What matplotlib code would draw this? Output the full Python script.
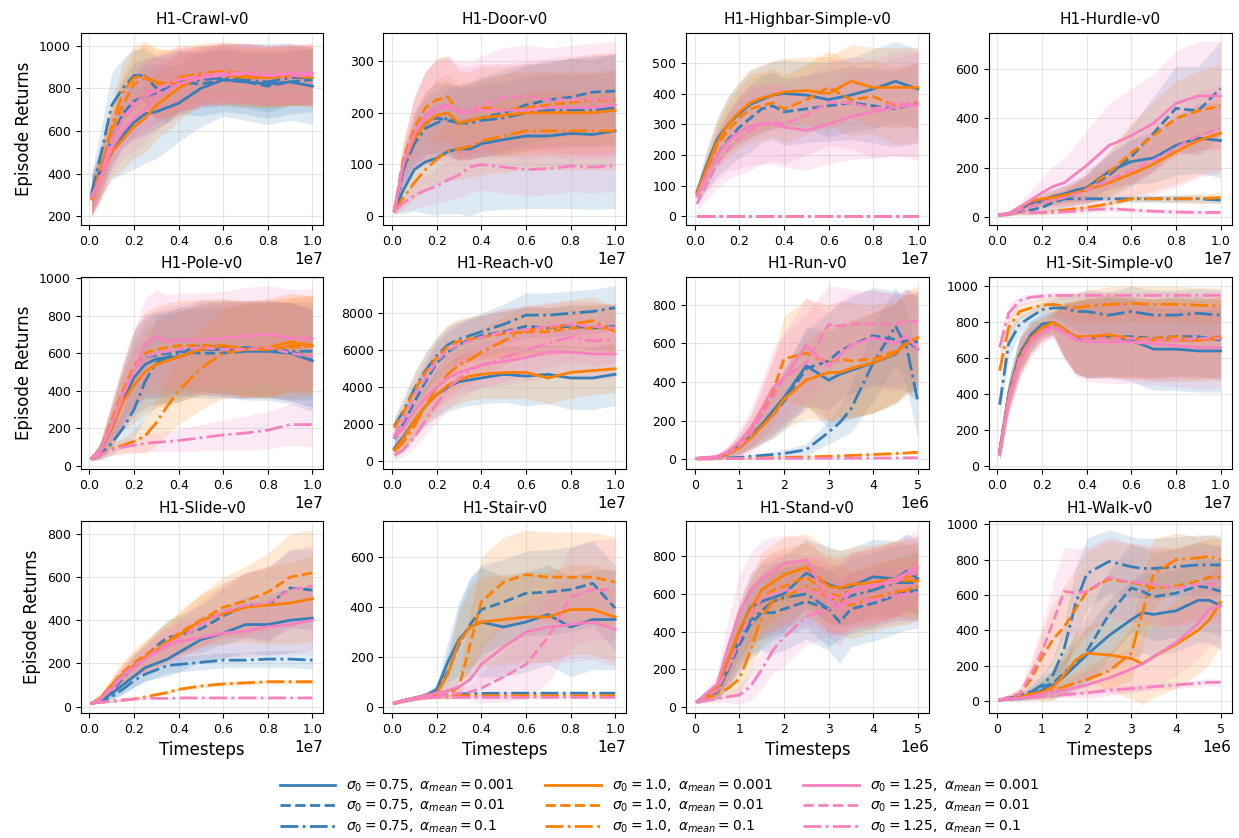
import numpy as np
import matplotlib
matplotlib.use('Agg')
import matplotlib.pyplot as plt

# Timestep grids (millions of steps)
X10 = [0.1, 0.5, 1.0, 1.5, 2.0, 2.5, 3.0, 3.5, 4.0, 5.0, 6.0, 7.0, 8.0, 9.0, 10.0]
X5 = [0.05, 0.5, 0.75, 1.0, 1.25, 1.5, 1.75, 2.0, 2.5, 3.0, 3.25, 3.5, 4.0, 4.5, 4.75, 5.0]

ENVS = ['H1-Crawl-v0', 'H1-Door-v0', 'H1-Highbar-Simple-v0', 'H1-Hurdle-v0',
        'H1-Pole-v0', 'H1-Reach-v0', 'H1-Run-v0', 'H1-Sit-Simple-v0',
        'H1-Slide-v0', 'H1-Stair-v0', 'H1-Stand-v0', 'H1-Walk-v0']
SIGMAS = ['0.75', '1.0', '1.25']
ALPHAS = ['0.001', '0.01', '0.1']

# curve order: sigma 0.75 (a=0.001, 0.01, 0.1), sigma 1.0 (...), sigma 1.25 (...)
CRAWL_MEAN = [
    [300, 400, 500, 580, 640, 680, 690, 710, 730, 800, 840, 830, 820, 830, 810],
    [300, 420, 560, 680, 740, 760, 780, 800, 830, 820, 840, 830, 810, 830, 840],
    [310, 480, 720, 800, 860, 860, 800, 790, 830, 840, 850, 840, 830, 850, 850],
    [280, 380, 500, 560, 620, 660, 720, 760, 800, 860, 860, 850, 850, 860, 850],
    [280, 420, 600, 720, 820, 850, 820, 820, 830, 860, 870, 860, 850, 860, 860],
    [280, 400, 620, 780, 850, 860, 830, 820, 850, 870, 880, 870, 860, 860, 870],
    [290, 370, 520, 600, 660, 700, 760, 790, 820, 850, 860, 870, 860, 870, 870],
    [290, 380, 560, 650, 720, 770, 800, 820, 840, 860, 870, 870, 860, 870, 860],
    [290, 380, 560, 660, 720, 760, 790, 820, 840, 860, 870, 870, 860, 860, 860],
]
CRAWL_SPREAD = [
    [90, 110, 130, 180, 220, 230, 220, 200, 180, 180, 170, 180, 190, 180, 180],
    [90, 110, 130, 160, 180, 180, 170, 160, 150, 150, 150, 150, 150, 150, 150],
    [90, 120, 150, 140, 120, 130, 150, 150, 140, 130, 130, 130, 140, 130, 130],
    [80, 100, 120, 140, 150, 160, 160, 160, 150, 140, 140, 140, 140, 140, 140],
    [80, 100, 120, 140, 150, 160, 160, 160, 150, 140, 140, 140, 140, 140, 140],
    [80, 100, 120, 140, 150, 160, 160, 160, 150, 140, 140, 140, 140, 140, 140],
    [90, 100, 110, 130, 150, 160, 160, 150, 150, 140, 140, 140, 140, 140, 140],
    [90, 100, 110, 130, 150, 160, 160, 150, 150, 140, 140, 140, 140, 140, 140],
    [90, 100, 110, 130, 150, 160, 160, 150, 150, 140, 140, 140, 140, 140, 140],
]

DOOR_MEAN = [
    [10, 50, 90, 105, 112, 125, 130, 130, 140, 148, 155, 155, 160, 158, 165],
    [10, 90, 150, 180, 190, 185, 180, 185, 190, 200, 215, 225, 230, 240, 242],
    [10, 90, 140, 170, 180, 190, 180, 180, 185, 190, 200, 205, 205, 205, 210],
    [10, 100, 150, 180, 195, 200, 180, 185, 190, 195, 200, 200, 200, 200, 205],
    [10, 110, 170, 210, 225, 230, 200, 200, 210, 205, 210, 215, 220, 225, 225],
    [8, 35, 65, 90, 110, 125, 130, 135, 145, 155, 165, 165, 165, 165, 165],
    [10, 100, 160, 195, 210, 215, 200, 200, 205, 205, 205, 210, 210, 210, 215],
    [10, 100, 160, 190, 205, 210, 205, 205, 215, 230, 232, 225, 225, 225, 228],
    [10, 25, 40, 50, 58, 70, 80, 95, 100, 95, 90, 92, 97, 95, 98],
]
DOOR_SPREAD = [
    [5, 45, 80, 100, 110, 120, 125, 130, 130, 135, 140, 140, 145, 145, 150],
    [5, 30, 50, 60, 70, 70, 70, 70, 75, 75, 75, 75, 75, 70, 70],
    [5, 30, 50, 60, 65, 70, 70, 70, 70, 70, 70, 70, 70, 70, 70],
    [5, 30, 50, 60, 70, 75, 75, 75, 75, 80, 80, 80, 80, 80, 80],
    [5, 30, 60, 70, 80, 80, 80, 80, 80, 85, 85, 85, 85, 90, 90],
    [5, 20, 30, 40, 50, 55, 60, 60, 65, 70, 75, 75, 75, 75, 75],
    [5, 40, 70, 85, 90, 90, 90, 90, 90, 90, 95, 95, 100, 100, 100],
    [5, 40, 70, 90, 100, 100, 95, 95, 95, 95, 100, 100, 105, 110, 110],
    [5, 15, 25, 30, 35, 40, 45, 50, 50, 50, 50, 50, 50, 50, 50],
]

HIGHBAR_MEAN = [
    [80, 160, 250, 300, 335, 365, 380, 395, 400, 395, 380, 395, 415, 440, 415],
    [70, 130, 200, 250, 290, 320, 350, 360, 340, 350, 360, 370, 360, 350, 370],
    [0, 0, 0, 0, 0, 0, 0, 0, 0, 0, 0, 0, 0, 0, 0],
    [75, 150, 240, 300, 340, 370, 385, 395, 405, 410, 400, 440, 420, 420, 420],
    [70, 140, 230, 280, 320, 350, 360, 370, 350, 380, 420, 380, 390, 360, 370],
    [0, 0, 0, 0, 0, 0, 0, 0, 0, 0, 0, 0, 0, 0, 0],
    [65, 130, 200, 245, 275, 295, 300, 300, 290, 280, 300, 325, 340, 355, 365],
    [40, 100, 170, 220, 255, 280, 300, 310, 300, 330, 370, 370, 350, 370, 360],
    [0, 0, 0, 0, 0, 0, 0, 0, 0, 0, 0, 0, 0, 0, 0],
]
HIGHBAR_SPREAD = [
    [20, 50, 70, 90, 100, 110, 110, 110, 110, 110, 120, 120, 130, 130, 130],
    [20, 50, 70, 90, 100, 110, 110, 110, 110, 110, 115, 120, 120, 125, 130],
    [0, 0, 0, 0, 0, 0, 0, 0, 0, 0, 0, 0, 0, 0, 0],
    [20, 50, 70, 90, 100, 110, 110, 110, 110, 110, 120, 120, 130, 130, 130],
    [20, 50, 70, 90, 100, 110, 110, 110, 110, 115, 120, 120, 120, 125, 130],
    [0, 0, 0, 0, 0, 0, 0, 0, 0, 0, 0, 0, 0, 0, 0],
    [20, 50, 80, 100, 120, 130, 130, 130, 130, 130, 130, 140, 150, 160, 170],
    [20, 50, 80, 100, 120, 130, 130, 130, 130, 130, 140, 150, 160, 170, 180],
    [0, 0, 0, 0, 0, 0, 0, 0, 0, 0, 0, 0, 0, 0, 0],
]

HURDLE_MEAN = [
    [10, 15, 35, 55, 70, 85, 95, 110, 120, 185, 225, 240, 290, 320, 310],
    [10, 15, 25, 30, 40, 60, 75, 95, 115, 170, 245, 340, 440, 430, 520],
    [10, 15, 40, 55, 65, 70, 75, 75, 75, 75, 75, 75, 75, 75, 70],
    [10, 15, 40, 65, 75, 80, 90, 100, 110, 140, 175, 215, 265, 310, 340],
    [10, 15, 30, 45, 60, 70, 80, 95, 115, 180, 260, 330, 400, 430, 450],
    [10, 15, 20, 20, 20, 25, 30, 35, 40, 55, 75, 75, 75, 75, 80],
    [10, 15, 40, 70, 100, 125, 140, 175, 210, 290, 330, 380, 460, 490, 490],
    [10, 15, 30, 45, 60, 70, 80, 95, 110, 150, 190, 230, 280, 330, 360],
    [10, 15, 20, 20, 20, 20, 22, 25, 30, 35, 30, 25, 22, 20, 20],
]
HURDLE_SPREAD = [
    [5, 8, 15, 20, 25, 30, 35, 40, 50, 70, 90, 100, 120, 140, 150],
    [5, 8, 15, 20, 25, 30, 35, 45, 60, 90, 120, 150, 170, 180, 190],
    [5, 8, 10, 10, 10, 10, 10, 10, 10, 10, 15, 15, 15, 15, 15],
    [5, 8, 15, 20, 25, 30, 35, 40, 50, 70, 90, 110, 130, 140, 150],
    [5, 8, 15, 20, 25, 30, 35, 45, 60, 90, 120, 140, 150, 160, 170],
    [5, 5, 8, 10, 10, 10, 10, 10, 10, 10, 10, 10, 15, 20, 20],
    [5, 10, 20, 40, 60, 80, 100, 120, 140, 170, 190, 200, 210, 220, 220],
    [5, 8, 15, 20, 30, 40, 50, 60, 80, 100, 120, 140, 160, 170, 180],
    [5, 5, 8, 10, 10, 10, 10, 12, 12, 12, 10, 10, 10, 10, 8],
]

POLE_MEAN = [
    [40, 80, 200, 350, 470, 540, 570, 575, 580, 620, 620, 610, 610, 600, 560],
    [40, 90, 230, 380, 520, 580, 590, 600, 610, 600, 600, 610, 620, 610, 570],
    [40, 60, 120, 200, 300, 450, 550, 580, 600, 640, 630, 630, 620, 610, 610],
    [40, 80, 200, 340, 430, 500, 540, 560, 580, 620, 640, 620, 630, 660, 640],
    [40, 90, 240, 400, 530, 600, 620, 630, 640, 640, 640, 620, 620, 630, 640],
    [40, 60, 90, 110, 130, 160, 230, 320, 400, 520, 600, 620, 620, 640, 650],
    [40, 80, 220, 380, 500, 650, 690, 660, 670, 670, 680, 690, 700, 680, 680],
    [40, 90, 220, 370, 510, 580, 600, 610, 620, 630, 620, 620, 630, 600, 580],
    [40, 60, 85, 100, 110, 120, 125, 130, 135, 150, 165, 175, 190, 220, 220],
]
POLE_SPREAD = [
    [10, 40, 100, 150, 200, 230, 240, 240, 240, 240, 250, 260, 260, 270, 270],
    [10, 40, 100, 150, 200, 220, 230, 230, 230, 240, 240, 250, 250, 260, 260],
    [10, 30, 60, 100, 150, 200, 230, 240, 240, 240, 250, 250, 260, 260, 260],
    [10, 40, 100, 150, 200, 220, 230, 240, 240, 240, 250, 250, 260, 260, 260],
    [10, 40, 100, 150, 200, 220, 230, 240, 240, 250, 250, 260, 260, 270, 270],
    [10, 20, 30, 40, 60, 90, 120, 150, 180, 220, 240, 250, 250, 250, 250],
    [10, 40, 110, 160, 210, 240, 250, 250, 250, 250, 250, 260, 260, 260, 260],
    [10, 40, 100, 150, 200, 220, 230, 240, 240, 250, 250, 260, 260, 260, 260],
    [10, 20, 30, 40, 40, 45, 50, 55, 60, 70, 80, 90, 100, 110, 120],
]

REACH_MEAN = [
    [700, 1300, 2200, 3000, 3600, 4000, 4300, 4400, 4500, 4700, 4600, 4700, 4500, 4500, 4700],
    [1200, 2000, 3200, 4300, 5300, 5900, 6300, 6600, 6800, 7000, 7300, 7200, 7300, 7200, 7300],
    [1900, 2700, 3900, 4900, 5700, 6300, 6600, 6800, 7000, 7400, 7900, 7900, 8000, 8100, 8300],
    [600, 1200, 2200, 3000, 3600, 4100, 4400, 4600, 4700, 4800, 4800, 4500, 4800, 4900, 5000],
    [1800, 2600, 3800, 4800, 5600, 6200, 6500, 6600, 6700, 6900, 7000, 7000, 7200, 7200, 7200],
    [550, 1000, 1900, 3000, 4000, 4700, 5200, 5500, 5900, 6500, 7100, 7200, 7400, 7600, 7000],
    [1300, 1800, 2700, 3400, 4000, 4500, 4800, 5000, 5200, 5400, 5600, 5900, 5900, 5800, 5800],
    [1400, 2200, 3500, 4500, 5400, 6000, 6300, 6500, 6700, 7000, 7100, 7300, 7400, 7300, 7200],
    [350, 600, 1300, 2200, 3100, 3900, 4500, 4900, 5200, 5600, 6000, 6400, 6700, 6500, 6600],
]
REACH_SPREAD = [
    [500, 700, 900, 1100, 1200, 1300, 1400, 1400, 1400, 1500, 1600, 1600, 1700, 1700, 1700],
    [500, 700, 900, 1000, 1100, 1100, 1100, 1100, 1100, 1100, 1100, 1100, 1100, 1200, 1200],
    [500, 700, 900, 1000, 1000, 1000, 1000, 1000, 1000, 1100, 1200, 1200, 1200, 1200, 1200],
    [400, 600, 800, 1000, 1100, 1200, 1300, 1300, 1300, 1400, 1400, 1400, 1400, 1300, 1300],
    [500, 700, 900, 1000, 1100, 1200, 1200, 1200, 1200, 1300, 1300, 1300, 1300, 1300, 1300],
    [300, 500, 700, 900, 1100, 1200, 1300, 1300, 1300, 1300, 1300, 1300, 1300, 1300, 1300],
    [500, 700, 900, 1000, 1100, 1200, 1200, 1200, 1200, 1300, 1300, 1300, 1300, 1300, 1300],
    [500, 700, 900, 1000, 1100, 1200, 1200, 1200, 1200, 1300, 1300, 1300, 1300, 1300, 1300],
    [300, 400, 600, 800, 1000, 1100, 1200, 1200, 1200, 1300, 1300, 1300, 1300, 1300, 1300],
]

RUN_MEAN = [
    [5, 10, 30, 70, 120, 180, 250, 320, 485, 410, 440, 460, 500, 545, 615, 570],
    [5, 10, 30, 60, 110, 170, 230, 300, 470, 510, 560, 590, 640, 620, 600, 610],
    [3, 5, 7, 10, 15, 20, 25, 30, 50, 140, 190, 260, 500, 690, 580, 300],
    [5, 10, 30, 60, 110, 170, 230, 310, 410, 450, 450, 470, 500, 550, 600, 630],
    [5, 10, 40, 80, 140, 230, 350, 520, 550, 500, 520, 510, 520, 560, 600, 630],
    [2, 3, 4, 5, 6, 7, 8, 10, 12, 16, 18, 20, 25, 30, 33, 36],
    [5, 15, 40, 90, 160, 260, 370, 420, 590, 480, 540, 590, 630, 600, 640, 570],
    [5, 10, 35, 70, 130, 230, 320, 420, 500, 700, 690, 700, 700, 700, 720, 710],
    [2, 3, 3, 4, 4, 4, 5, 5, 5, 6, 6, 6, 7, 7, 8, 8],
]
RUN_SPREAD = [
    [3, 10, 20, 40, 60, 90, 120, 150, 200, 250, 250, 250, 260, 260, 270, 270],
    [3, 10, 20, 40, 60, 90, 120, 150, 200, 250, 250, 250, 250, 250, 250, 250],
    [2, 4, 6, 8, 10, 12, 15, 20, 30, 60, 80, 120, 200, 200, 200, 200],
    [3, 10, 20, 40, 60, 90, 120, 150, 200, 250, 250, 250, 260, 260, 270, 270],
    [3, 10, 25, 50, 80, 120, 170, 220, 280, 300, 300, 300, 280, 260, 250, 240],
    [1, 2, 2, 3, 3, 3, 4, 4, 5, 5, 6, 6, 7, 8, 8, 8],
    [3, 15, 30, 60, 100, 150, 200, 230, 250, 280, 280, 270, 250, 250, 240, 240],
    [3, 15, 30, 60, 100, 150, 200, 230, 250, 200, 200, 180, 170, 160, 160, 160],
    [1, 1, 1, 2, 2, 2, 2, 2, 2, 3, 3, 3, 3, 3, 3, 3],
]

SIT_MEAN = [
    [80, 400, 620, 730, 790, 800, 760, 720, 710, 720, 700, 650, 650, 640, 640],
    [80, 400, 630, 720, 770, 790, 750, 710, 710, 720, 720, 710, 720, 720, 700],
    [340, 680, 790, 830, 870, 880, 880, 860, 860, 840, 860, 840, 840, 850, 840],
    [70, 380, 600, 710, 770, 800, 760, 720, 720, 730, 710, 700, 700, 700, 710],
    [70, 390, 610, 710, 760, 790, 750, 720, 710, 710, 710, 710, 720, 700, 720],
    [530, 770, 860, 880, 895, 900, 890, 880, 890, 900, 905, 900, 900, 895, 890],
    [60, 360, 580, 690, 740, 770, 740, 700, 690, 690, 690, 680, 670, 660, 660],
    [70, 380, 600, 700, 750, 780, 750, 710, 710, 710, 710, 700, 700, 710, 710],
    [660, 850, 920, 940, 945, 950, 950, 950, 950, 950, 950, 950, 950, 950, 950],
]
SIT_SPREAD = [
    [40, 80, 100, 80, 60, 60, 150, 200, 220, 230, 230, 230, 230, 230, 230],
    [40, 80, 100, 80, 60, 60, 150, 200, 220, 220, 220, 220, 220, 220, 220],
    [80, 80, 50, 40, 40, 50, 80, 100, 120, 130, 140, 140, 140, 140, 140],
    [40, 80, 100, 80, 60, 60, 150, 200, 220, 230, 230, 230, 230, 230, 230],
    [40, 80, 100, 80, 60, 60, 150, 200, 220, 220, 220, 220, 220, 220, 220],
    [80, 60, 40, 40, 40, 50, 60, 80, 90, 100, 100, 100, 100, 100, 100],
    [30, 80, 100, 80, 60, 60, 150, 200, 220, 230, 230, 230, 230, 230, 230],
    [40, 80, 100, 80, 60, 60, 150, 200, 220, 220, 220, 220, 220, 220, 220],
    [80, 50, 30, 20, 20, 20, 20, 20, 20, 20, 20, 20, 20, 20, 20],
]

SLIDE_MEAN = [
    [15, 30, 60, 100, 140, 180, 200, 220, 250, 310, 340, 380, 380, 400, 410],
    [15, 30, 70, 130, 190, 230, 280, 320, 330, 360, 420, 470, 470, 550, 540],
    [15, 25, 45, 80, 120, 150, 170, 190, 195, 205, 215, 215, 220, 220, 215],
    [15, 40, 100, 150, 190, 230, 260, 300, 330, 400, 430, 460, 470, 480, 500],
    [15, 40, 100, 160, 200, 240, 270, 300, 340, 400, 460, 490, 530, 600, 620],
    [15, 20, 25, 30, 35, 45, 55, 65, 80, 95, 105, 110, 115, 115, 115],
    [15, 35, 80, 140, 180, 220, 250, 280, 300, 320, 340, 350, 370, 380, 400],
    [15, 35, 90, 150, 190, 220, 260, 290, 310, 380, 440, 470, 480, 540, 560],
    [15, 20, 25, 30, 35, 38, 38, 38, 40, 40, 40, 40, 40, 40, 40],
]
SLIDE_SPREAD = [
    [5, 10, 25, 40, 50, 60, 70, 80, 90, 100, 120, 130, 140, 150, 150],
    [5, 10, 25, 40, 50, 60, 70, 80, 90, 110, 130, 150, 170, 180, 190],
    [5, 8, 15, 25, 30, 35, 35, 35, 35, 35, 35, 35, 40, 40, 40],
    [5, 15, 30, 50, 60, 70, 80, 90, 100, 120, 140, 160, 180, 190, 200],
    [5, 15, 30, 50, 60, 70, 80, 90, 100, 120, 140, 160, 180, 200, 200],
    [3, 4, 5, 5, 6, 6, 7, 8, 8, 9, 9, 10, 10, 10, 10],
    [5, 10, 25, 40, 50, 60, 70, 80, 90, 100, 110, 120, 130, 140, 150],
    [5, 10, 25, 40, 50, 60, 70, 80, 90, 110, 130, 150, 170, 180, 190],
    [3, 3, 4, 4, 4, 4, 4, 4, 4, 4, 4, 4, 4, 4, 4],
]

STAIR_MEAN = [
    [15, 25, 35, 45, 70, 180, 270, 320, 340, 320, 340, 370, 320, 350, 350],
    [15, 25, 35, 45, 60, 140, 250, 330, 390, 420, 455, 460, 470, 495, 395],
    [15, 25, 35, 42, 48, 50, 52, 53, 54, 55, 55, 55, 55, 55, 55],
    [15, 25, 35, 45, 55, 130, 260, 320, 340, 350, 360, 360, 390, 390, 360],
    [15, 25, 35, 40, 45, 50, 80, 250, 420, 500, 530, 520, 520, 520, 500],
    [15, 25, 33, 40, 43, 44, 45, 45, 45, 45, 45, 45, 45, 45, 45],
    [15, 25, 35, 45, 55, 65, 80, 110, 170, 240, 300, 320, 330, 340, 310],
    [15, 25, 35, 40, 45, 50, 55, 60, 75, 120, 170, 280, 440, 470, 470],
    [15, 25, 32, 36, 38, 38, 38, 38, 38, 38, 38, 38, 38, 38, 38],
]
STAIR_SPREAD = [
    [5, 8, 10, 12, 20, 80, 150, 200, 220, 200, 200, 200, 200, 200, 200],
    [5, 8, 10, 12, 20, 80, 150, 180, 180, 170, 170, 170, 170, 170, 170],
    [3, 3, 4, 5, 5, 5, 5, 5, 5, 5, 5, 5, 5, 5, 5],
    [5, 8, 10, 12, 20, 60, 120, 160, 180, 180, 180, 180, 180, 180, 180],
    [5, 8, 10, 10, 15, 20, 40, 120, 180, 180, 180, 180, 180, 180, 180],
    [3, 3, 4, 5, 5, 5, 5, 5, 5, 5, 5, 5, 5, 5, 5],
    [5, 8, 10, 12, 20, 30, 40, 60, 80, 120, 130, 140, 150, 150, 150],
    [5, 8, 10, 10, 10, 15, 20, 30, 60, 100, 140, 180, 200, 200, 200],
    [3, 3, 4, 5, 5, 5, 5, 5, 5, 5, 5, 5, 5, 5, 5],
]

STAND_MEAN = [
    [30, 100, 250, 400, 530, 560, 580, 600, 710, 650, 630, 640, 690, 680, 720, 680],
    [30, 80, 200, 330, 440, 500, 500, 520, 560, 520, 450, 520, 550, 590, 610, 620],
    [30, 80, 200, 360, 460, 510, 560, 580, 600, 520, 560, 590, 620, 660, 660, 660],
    [30, 100, 250, 410, 520, 620, 660, 700, 740, 640, 630, 650, 660, 680, 670, 670],
    [30, 90, 230, 370, 480, 580, 620, 640, 690, 600, 590, 620, 640, 680, 690, 700],
    [30, 70, 100, 150, 300, 480, 560, 580, 640, 580, 570, 540, 580, 610, 620, 640],
    [30, 120, 320, 500, 620, 680, 720, 760, 780, 570, 520, 620, 640, 680, 710, 740],
    [30, 90, 210, 360, 490, 580, 600, 620, 620, 590, 580, 610, 650, 660, 700, 710],
    [30, 45, 55, 65, 110, 200, 300, 370, 480, 520, 540, 560, 570, 590, 600, 610],
]
STAND_SPREAD = [
    [10, 40, 100, 150, 180, 200, 200, 200, 180, 200, 200, 200, 200, 200, 200, 200],
    [10, 40, 100, 150, 180, 200, 220, 220, 200, 220, 220, 200, 200, 200, 200, 200],
    [10, 40, 100, 150, 180, 200, 200, 200, 180, 200, 200, 200, 200, 200, 200, 200],
    [10, 40, 100, 150, 180, 200, 200, 200, 180, 200, 200, 200, 200, 200, 200, 200],
    [10, 40, 100, 150, 180, 200, 200, 200, 180, 200, 200, 200, 200, 200, 200, 200],
    [10, 30, 50, 80, 120, 150, 160, 160, 160, 180, 180, 180, 180, 180, 180, 180],
    [10, 50, 150, 200, 200, 200, 180, 150, 120, 200, 200, 200, 200, 200, 200, 200],
    [10, 40, 100, 150, 180, 200, 200, 200, 180, 200, 200, 200, 200, 200, 200, 200],
    [10, 20, 30, 50, 80, 100, 120, 150, 150, 150, 150, 150, 150, 150, 150, 150],
]

WALK_MEAN = [
    [5, 15, 35, 60, 90, 140, 200, 260, 370, 460, 500, 490, 510, 570, 570, 540],
    [5, 20, 50, 80, 100, 160, 220, 280, 490, 640, 620, 590, 610, 650, 640, 620],
    [5, 30, 50, 90, 150, 300, 550, 720, 790, 760, 750, 750, 760, 770, 770, 770],
    [5, 20, 40, 50, 80, 150, 230, 270, 260, 240, 210, 250, 320, 400, 460, 560],
    [5, 40, 120, 250, 350, 420, 520, 620, 690, 670, 660, 640, 650, 680, 700, 700],
    [5, 20, 30, 40, 60, 80, 100, 120, 170, 270, 500, 720, 800, 810, 820, 800],
    [5, 15, 25, 40, 50, 60, 75, 90, 130, 180, 210, 250, 330, 440, 520, 540],
    [5, 40, 150, 280, 450, 620, 610, 620, 700, 670, 670, 660, 640, 660, 660, 660],
    [5, 15, 20, 25, 30, 35, 40, 45, 60, 70, 75, 80, 90, 100, 105, 105],
]
WALK_SPREAD = [
    [5, 15, 30, 50, 80, 100, 130, 150, 200, 220, 230, 230, 230, 240, 240, 250],
    [5, 15, 30, 50, 80, 120, 160, 200, 250, 250, 250, 250, 250, 250, 250, 250],
    [5, 20, 40, 60, 90, 150, 200, 200, 180, 170, 170, 170, 170, 170, 170, 170],
    [5, 15, 30, 50, 80, 100, 130, 150, 200, 230, 230, 230, 250, 250, 250, 250],
    [5, 30, 80, 150, 200, 230, 230, 230, 220, 220, 220, 220, 220, 220, 220, 220],
    [5, 15, 25, 30, 40, 50, 60, 70, 100, 150, 200, 200, 150, 120, 120, 120],
    [5, 10, 15, 20, 30, 40, 60, 80, 100, 130, 150, 170, 190, 200, 210, 220],
    [5, 30, 80, 150, 220, 250, 250, 250, 230, 220, 220, 220, 220, 220, 220, 220],
    [3, 5, 6, 8, 10, 12, 14, 15, 18, 20, 20, 20, 20, 20, 20, 20],
]

GRIDS = [X10, X10, X10, X10, X10, X10, X5, X10, X10, X10, X5, X5]
MEANS = [CRAWL_MEAN, DOOR_MEAN, HIGHBAR_MEAN, HURDLE_MEAN, POLE_MEAN, REACH_MEAN,
         RUN_MEAN, SIT_MEAN, SLIDE_MEAN, STAIR_MEAN, STAND_MEAN, WALK_MEAN]
SPREADS = [CRAWL_SPREAD, DOOR_SPREAD, HIGHBAR_SPREAD, HURDLE_SPREAD, POLE_SPREAD, REACH_SPREAD,
           RUN_SPREAD, SIT_SPREAD, SLIDE_SPREAD, STAIR_SPREAD, STAND_SPREAD, WALK_SPREAD]

colors = ['#377eb8', '#ff7f00', '#f781bf']
styles = ['-', '--', '-.']

fig, axes = plt.subplots(3, 4, figsize=(12.39, 8.38), dpi=100)
fig.subplots_adjust(left=0.065, right=0.994, top=0.961, bottom=0.149,
                    wspace=0.246, hspace=0.27)

for k, ax in enumerate(axes.flat):
    x = np.array(GRIDS[k]) * 1e6
    # bands first, lines on top
    for c in range(3):
        for a in range(3):
            m = np.array(MEANS[k][3 * c + a], dtype=float)
            s = np.array(SPREADS[k][3 * c + a], dtype=float)
            ax.fill_between(x, m - s, m + s, color=colors[c], alpha=0.17, lw=0)
    for c in range(3):
        for a in range(3):
            m = np.array(MEANS[k][3 * c + a], dtype=float)
            ax.plot(x, m, color=colors[c], ls=styles[a], lw=2,
                    label=r'$\sigma_0 = %s,\ \alpha_{mean} = %s$' % (SIGMAS[c], ALPHAS[a]))
    ax.set_title(ENVS[k], fontsize=11)
    ax.tick_params(labelsize=9)
    ax.xaxis.get_offset_text().set_fontsize(11)
    ax.grid(alpha=0.3)
    if k % 4 == 0:
        ax.set_ylabel('Episode Returns', fontsize=12)
    if k >= 8:
        ax.set_xlabel('Timesteps', fontsize=12)

handles, labels = axes[0, 0].get_legend_handles_labels()
fig.legend(handles, labels, ncol=3, loc='center', bbox_to_anchor=(0.532, 0.038),
           frameon=False, fontsize=10, handlelength=4, labelspacing=0.3,
           columnspacing=2.2)

fig.savefig('out.png', dpi=100)
